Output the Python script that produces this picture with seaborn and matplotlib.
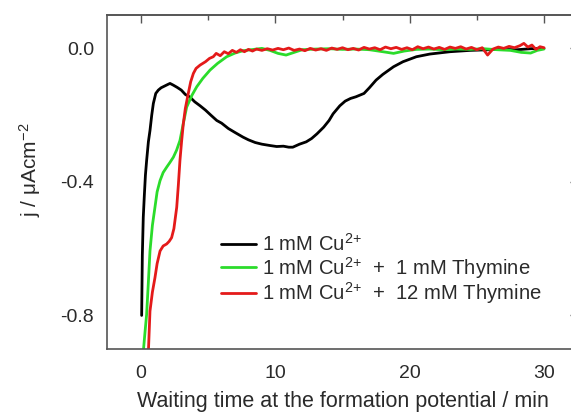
import numpy as np
import pandas as pd
import seaborn as sns
import matplotlib
matplotlib.use("Agg")
import matplotlib.pyplot as plt

# ---- data ----
t_cu = [0.05, 0.1, 0.17, 0.25, 0.33, 0.42, 0.55, 0.67, 0.8, 0.92, 1.1, 1.29, 1.5, 1.8, 2.0, 2.16, 2.4, 2.7, 3.0, 3.3, 3.65,
        4.0, 4.4, 4.8, 5.2, 5.64, 6.0, 6.5, 7.0, 7.6, 8.0, 8.5, 9.0, 9.6, 10.1, 10.6, 11.0, 11.3, 11.8, 12.3, 12.7,
        13.1, 13.6, 14.0, 14.3, 14.8, 15.2, 15.6, 16.0, 16.6, 17.0, 17.5, 18.0, 18.8, 19.5, 20.5, 21.5, 23.0, 24.5,
        26.7, 28.0, 29.0, 30.0]
j_cu = [-0.80, -0.62, -0.506, -0.44, -0.38, -0.336, -0.28, -0.246, -0.20, -0.165, -0.135, -0.125, -0.118, -0.112,
        -0.108, -0.105, -0.110, -0.117, -0.125, -0.138, -0.146, -0.160, -0.172, -0.185, -0.200, -0.216, -0.224,
        -0.240, -0.252, -0.266, -0.274, -0.282, -0.287, -0.291, -0.294, -0.293, -0.296, -0.296, -0.287, -0.280,
        -0.270, -0.256, -0.236, -0.216, -0.196, -0.172, -0.158, -0.150, -0.145, -0.135, -0.118, -0.095, -0.078,
        -0.055, -0.040, -0.025, -0.017, -0.010, -0.006, -0.003, -0.004, -0.001, 0.0]

t_th1 = [0.17, 0.3, 0.42, 0.55, 0.67, 0.85, 1.04, 1.2, 1.42, 1.65, 1.91, 2.15, 2.41, 2.65, 2.9, 3.15, 3.4, 3.8, 4.15,
         4.6, 5.14, 5.7, 6.38, 7.0, 7.6, 8.4, 9.0, 9.6, 10.2, 10.8, 11.4, 12.0, 13.0, 14.0, 15.0, 16.0, 17.0, 18.0,
         18.8, 19.6, 20.5, 21.5, 22.5, 23.5, 24.5, 25.5, 26.5, 27.5, 28.3, 29.0, 29.5, 30.0]
j_th1 = [-0.91, -0.85, -0.797, -0.70, -0.607, -0.53, -0.476, -0.43, -0.396, -0.372, -0.356, -0.342, -0.326, -0.305,
         -0.276, -0.225, -0.176, -0.140, -0.115, -0.090, -0.065, -0.045, -0.025, -0.014, -0.007, -0.003, 0.0,
         -0.006, -0.015, -0.020, -0.012, -0.004, -0.002, -0.001, -0.003, -0.002, -0.004, -0.010, -0.015, -0.008,
         -0.003, -0.002, -0.004, -0.002, -0.003, -0.001, -0.004, -0.006, -0.012, -0.014, -0.006, -0.002]

t_th12 = [0.55, 0.67, 0.85, 1.04, 1.2, 1.42, 1.65, 1.91, 2.1, 2.28, 2.45, 2.66, 2.78, 2.9, 3.02, 3.15, 3.3, 3.52, 3.7,
          3.9, 4.1, 4.4, 4.8, 5.1, 5.38, 5.6, 5.9, 6.2, 6.5, 6.8, 7.1, 7.4, 7.7, 8.0, 8.3, 8.6, 9.0, 9.4, 9.8, 10.2,
          10.6, 11.0, 11.4, 11.8, 12.2, 12.6, 13.0, 13.4, 13.8, 14.2, 14.6, 15.0, 15.4, 15.8, 16.2, 16.6, 17.0, 17.4,
          17.8, 18.2, 18.6, 19.0, 19.4, 19.8, 20.2, 20.6, 21.0, 21.4, 21.8, 22.2, 22.6, 23.0, 23.4, 23.8, 24.2, 24.6,
          25.0, 25.4, 25.8, 26.2, 26.6, 27.0, 27.4, 27.8, 28.2, 28.5, 28.8, 29.1, 29.4, 29.7, 30.0]
j_th12 = [-0.91, -0.787, -0.73, -0.687, -0.645, -0.607, -0.592, -0.586, -0.578, -0.567, -0.540, -0.476, -0.410,
          -0.336, -0.280, -0.226, -0.180, -0.135, -0.100, -0.075, -0.060, -0.050, -0.040, -0.030, -0.025, -0.015,
          -0.022, -0.010, -0.016, -0.006, -0.012, -0.004, -0.010, -0.003, -0.008, -0.002, -0.006, -0.001, -0.005,
          0.000, -0.004, 0.001, -0.006, -0.002, -0.007, 0.000, -0.005, -0.001, -0.006, 0.001, -0.003, 0.002,
          -0.004, 0.000, -0.005, 0.003, -0.002, 0.002, -0.004, 0.004, -0.001, 0.003, -0.003, 0.002, -0.004, 0.005,
          -0.001, 0.004, -0.002, 0.003, -0.003, 0.004, 0.000, 0.005, -0.002, 0.003, -0.004, 0.002, -0.020, -0.002,
          0.004, 0.000, 0.006, 0.002, 0.008, 0.015, 0.004, 0.010, -0.003, 0.005, 0.002]

labels = [r"1 mM Cu$^{2{+}}$",
          r"1 mM Cu$^{2{+}}$  +  1 mM Thymine",
          r"1 mM Cu$^{2{+}}$  +  12 mM Thymine"]
colors = ["#000000", "#2bdc2b", "#e41a1a"]

x_ticks = [0, 10, 20, 30]
y_ticks = [-0.8, -0.4, 0.0]
x_label = "Waiting time at the formation potential / min"
y_label = r"j / $\mu$Acm$^{-2}$"

# ---- build long-form table ----
df = pd.concat([
    pd.DataFrame({"t": t_cu, "j": j_cu, "series": labels[0]}),
    pd.DataFrame({"t": t_th1, "j": j_th1, "series": labels[1]}),
    pd.DataFrame({"t": t_th12, "j": j_th12, "series": labels[2]}),
], ignore_index=True)

sns.set_theme(style="white")
plt.rcParams["font.family"] = ["Liberation Sans", "DejaVu Sans"]
plt.rcParams["mathtext.fontset"] = "custom"
plt.rcParams["mathtext.rm"] = "Liberation Sans"
plt.rcParams["mathtext.it"] = "Liberation Sans:italic"
plt.rcParams["mathtext.default"] = "regular"

W, H = 571, 412
fig = plt.figure(figsize=(W / 100, H / 100), dpi=100)
ax_l, ax_r, ax_t, ax_b = 107.4, 577.6, 15, 348.8
ax = fig.add_axes([ax_l / W, 1 - ax_b / H, (ax_r - ax_l) / W, (ax_b - ax_t) / H])

sns.lineplot(data=df, x="t", y="j", hue="series", palette=dict(zip(labels, colors)),
             estimator=None, sort=False, linewidth=2.0, ax=ax, legend=True)

ax.set_xlim(-2.5, 32.5)
ax.set_ylim(-0.9, 0.1)
ax.set_xticks(x_ticks)
ax.set_yticks(y_ticks)
ax.set_xticks([5, 15, 25], minor=True)
ax.set_yticks([-0.6, -0.2], minor=True)
ax.set_yticklabels(["-0.8", "-0.4", "0.0"])

tc = "#2a2a2a"
for s in ax.spines.values():
    s.set_color("#555555")
    s.set_linewidth(1.2)
ax.tick_params(which="both", direction="out", colors="#555555", labelcolor=tc, labelsize=14, width=1.0)
ax.tick_params(which="major", length=6)
ax.tick_params(which="minor", length=3.5)
ax.tick_params(axis="x", pad=6)

sx = ax.secondary_xaxis("top")
sx.set_xticks(x_ticks)
sx.set_xticks([5, 15, 25], minor=True)
sx.tick_params(which="both", direction="in", labeltop=False, colors="#555555", width=1.0)
sx.tick_params(which="major", length=6)
sx.tick_params(which="minor", length=3.5)
sy = ax.secondary_yaxis("right")
sy.set_yticks(y_ticks)
sy.set_yticks([-0.6, -0.2], minor=True)
sy.tick_params(which="both", direction="in", labelright=False, colors="#555555", width=1.0)
sy.tick_params(which="major", length=6)
sy.tick_params(which="minor", length=3.5)
for s in list(sx.spines.values()) + list(sy.spines.values()):
    s.set_color("#555555")
    s.set_linewidth(1.2)

ax.set_xlabel(x_label, fontsize=15.5, color=tc, labelpad=6)
ax.set_ylabel(y_label, fontsize=15, color=tc)
ax.yaxis.set_label_coords(-0.138, 0.535)

leg = ax.legend(loc="upper left", bbox_to_anchor=(0.225, 0.372), frameon=False, fontsize=14.6,
                handlelength=1.7, handletextpad=0.3, labelspacing=0.0, borderaxespad=0)
for txt in leg.get_texts():
    txt.set_color(tc)

fig.savefig("out.png", dpi=100)
